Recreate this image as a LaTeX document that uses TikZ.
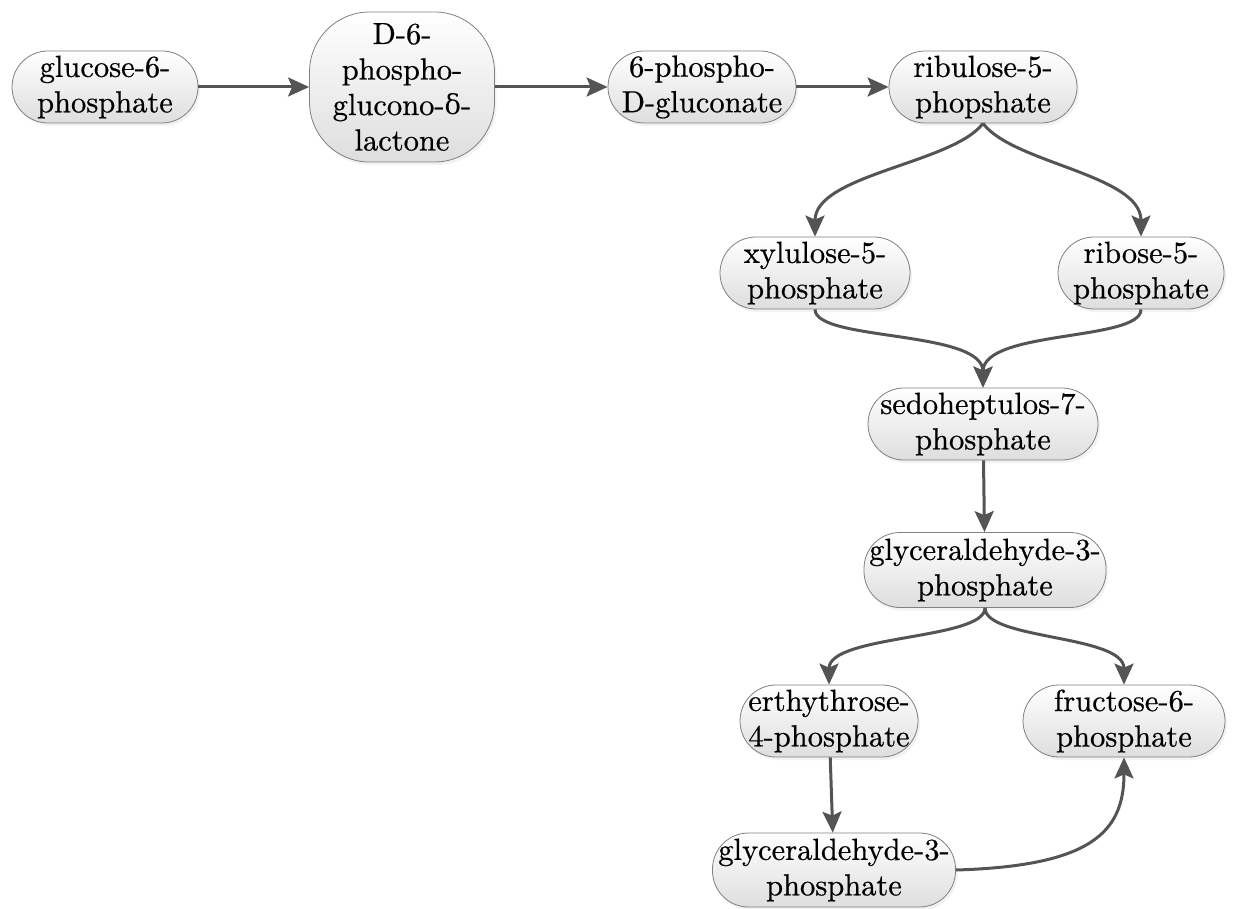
\documentclass[tikz,border=0pt]{standalone}
\usepackage{fontspec}
\newfontfamily\metabfont{lmroman10-regular}[Extension=.otf, FakeBold=0.6]
\newfontfamily\greekfont{DejaVu Serif}[Scale=0.9]
\usepackage{tikz}
\usetikzlibrary{arrows.meta,shadows}

\begin{document}
\begin{tikzpicture}[
    x=1pt, y=-1pt,
    metab/.style={rectangle, draw=black!50, line width=0.8pt, rounded corners=36pt,
      minimum height=72pt, inner sep=2pt, align=center,
      top color=white, bottom color=black!13,
      drop shadow={shadow xshift=2pt, shadow yshift=-3pt, fill=black!10},
      font=\metabfont\fontsize{30.5}{35.5}\selectfont},
    flow/.style={draw=black!67, line width=3pt, -{Stealth[length=21pt, width=19pt, inset=4pt]}}
]
\useasboundingbox (0,0) rectangle (1247,909);

% oxidative branch
\node (g6p) at (105,87) [metab, minimum width=186pt] {glucose-6-\\phosphate};
\node (pgl) at (402,87) [metab, minimum width=185pt, minimum height=150pt, rounded corners=60pt] {D-6-\\phospho-\\glucono-{\greekfont δ}-\\lactone};
\node (pg) at (702,87) [metab, minimum width=188pt] {6-phospho-\\D-gluconate};
\node (ru5p) at (983,87) [metab, minimum width=188pt] {ribulose-5-\\phopshate};

% pentoses
\node (xu5p) at (815,273) [metab, minimum width=190pt] {xylulose-5-\\phosphate};
\node (r5p) at (1141,273) [metab, minimum width=166pt] {ribose-5-\\phosphate};

% non-oxidative branch
\node (s7p) at (983,424) [metab, minimum width=230pt] {sedoheptulos-7-\\phosphate};
\node (gap) at (985,570) [metab, minimum width=242pt, minimum height=75pt] {glyceraldehyde-3-\\phosphate};
\node (e4p) at (829,721) [metab, minimum width=178pt] {erthythrose-\\4-phosphate};
\node (f6p) at (1124,721) [metab, minimum width=202pt] {fructose-6-\\phosphate};
\node (gap2) at (834,870) [metab, minimum width=243pt, minimum height=74pt] {glyceraldehyde-3-\\phosphate};

% reactions
\draw[flow] (g6p) -- (pgl);
\draw[flow] (pgl) -- (pg);
\draw[flow] (pg) -- (ru5p);
\draw[flow] (ru5p.south) .. controls +(-30,40) and +(0,-62) .. (xu5p.north);
\draw[flow] (ru5p.south) .. controls +(30,40) and +(0,-62) .. (r5p.north);
\draw[flow] (xu5p.south) .. controls +(0,32) and +(0,-58) .. (s7p.north);
\draw[flow] (r5p.south) .. controls +(0,32) and +(0,-58) .. (s7p.north);
\draw[flow] (s7p) -- (gap);
\draw[flow] (gap.south) .. controls +(0,32) and +(0,-50) .. (e4p.north);
\draw[flow] (gap.south) .. controls +(0,32) and +(0,-50) .. (f6p.north);
\draw[flow] (e4p) -- (gap2);
\draw[flow] (gap2.east) .. controls +(135,-4) and +(0,75) .. (f6p.south);

\end{tikzpicture}
\end{document}
